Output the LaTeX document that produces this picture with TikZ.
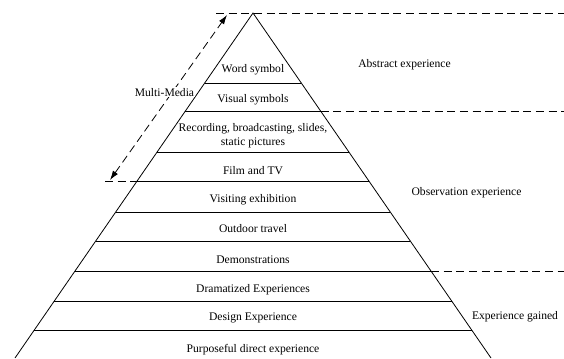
\documentclass[tikz,border=0pt]{standalone}
\usepackage{fontspec}
\setmainfont{Liberation Serif}
\usetikzlibrary{arrows.meta}

\begin{document}
\begin{tikzpicture}[x=0.75pt,y=-0.75pt,
		lbl/.style={font=\fontsize{8.7}{10.8}\selectfont,inner sep=1pt,anchor=base},
		side/.style={line width=0.6pt},
		dsh/.style={line width=0.6pt,dash pattern=on 6pt off 3.5pt}]
		\useasboundingbox (0,0) rectangle (564,358);
		\coordinate (apex) at (253,13);
		\coordinate (bl) at (15,358);
		\coordinate (br) at (491,358);
		\draw[side] (bl) -- (apex) -- (br);
		\foreach \y in {83,111,152,181,212,241,271,301,330}{
			\pgfmathsetmacro{\w}{0.69*(\y-13)}
			\draw[side] (253-\w,\y) -- (253+\w,\y);
		}
		% levels of the cone
		\foreach \y/\t [count=\i] in {72/Word symbol,102/Visual symbols,174/Film and TV,
			202/Visiting exhibition,232/Outdoor travel,263/Demonstrations,
			292/Dramatized Experiences,320/Design Experience,352/Purposeful direct experience}{
			\node[lbl] (lev\i) at (253,\y) {\t};
		}
		\node[lbl,anchor=center,align=center] (rec) at (253,136) {Recording, broadcasting, slides,\\static pictures};
		% borders between the groups
		\draw[dsh] (216,13) -- (564,13);
		\draw[dsh] (320.6,111) -- (564,111);
		\draw[dsh] (105,181) -- (137,181);
		\draw[dsh] (431,271) -- (564,271);
		\node[lbl] (abs) at (404.5,67) {Abstract experience};
		\node[lbl] (obs) at (466.5,195) {Observation experience};
		\node[lbl] (gain) at (515,319) {Experience gained};
		% multi-media range
		\coordinate (mmlo) at (110,180);
		\coordinate (mmhi) at (227,15);
		\draw[dsh,{Latex[length=7pt,width=4.5pt]}-{Latex[length=7pt,width=4.5pt]}] (mmlo) -- (mmhi);
		\node[lbl,fill=white] (mm) at (164.5,96) {Multi-Media};
	\end{tikzpicture}
\end{document}
